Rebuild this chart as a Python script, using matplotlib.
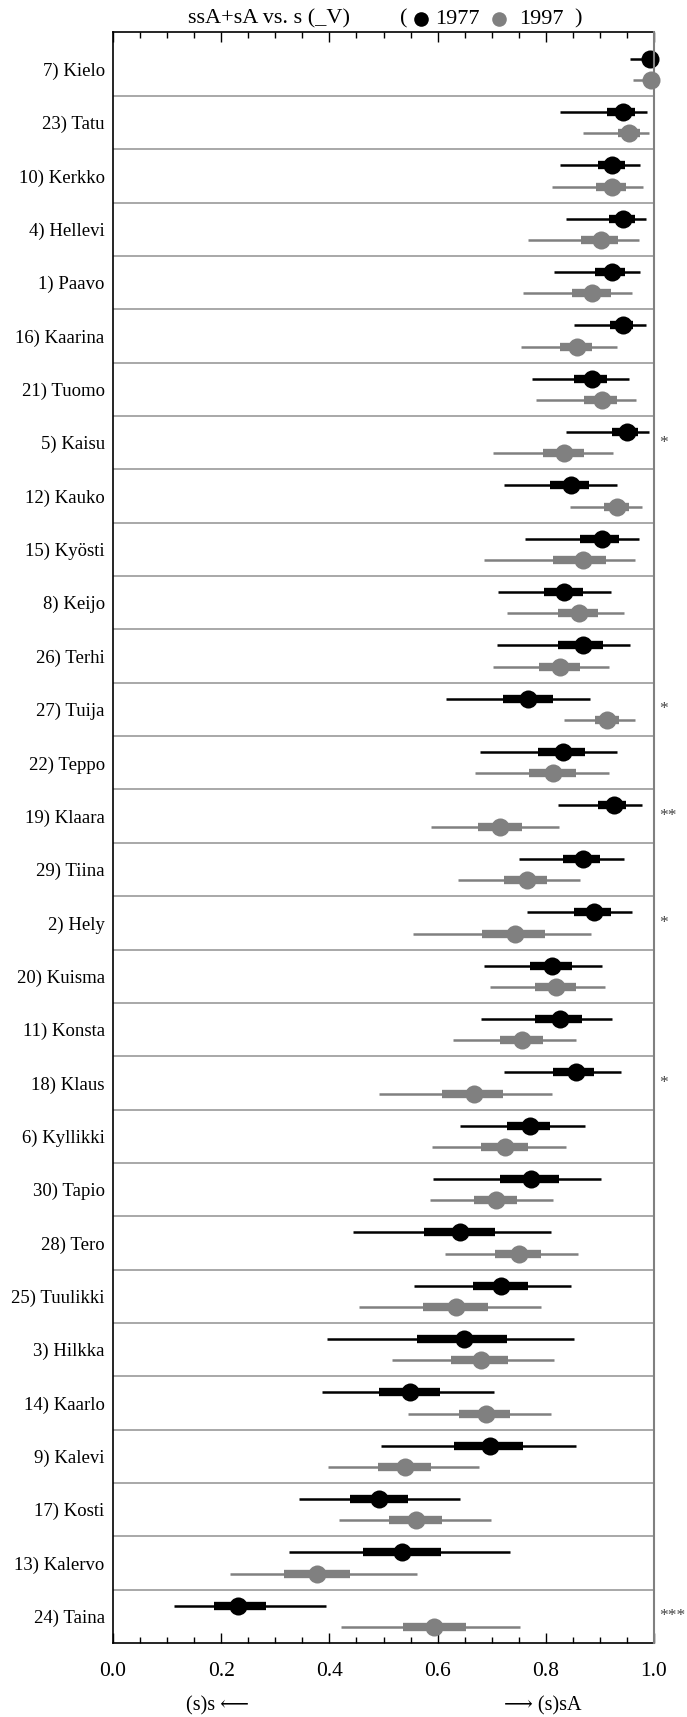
import matplotlib
matplotlib.use("Agg")
import matplotlib.pyplot as plt
from matplotlib.lines import Line2D
from matplotlib.ticker import MultipleLocator

plt.rcParams['font.family'] = ['Liberation Serif', 'DejaVu Serif', 'DejaVu Sans']

names = ["7) Kielo", "23) Tatu", "10) Kerkko", "4) Hellevi", "1) Paavo",
         "16) Kaarina", "21) Tuomo", "5) Kaisu", "12) Kauko", "15) Kyösti",
         "8) Keijo", "26) Terhi", "27) Tuija", "22) Teppo", "19) Klaara",
         "29) Tiina", "2) Hely", "20) Kuisma", "11) Konsta", "18) Klaus",
         "6) Kyllikki", "30) Tapio", "28) Tero", "25) Tuulikki", "3) Hilkka",
         "14) Kaarlo", "9) Kalevi", "17) Kosti", "13) Kalervo", "24) Taina"]
stars = ["", "", "", "", "", "", "", "*", "", "", "", "", "*", "", "**",
         "", "*", "", "", "*", "", "", "", "", "", "", "", "", "", "***"]

# 1977: estimate, 50% interval, 95% interval
est77 = [0.993, 0.942, 0.922, 0.943, 0.922, 0.943, 0.885, 0.951, 0.846, 0.903,
         0.834, 0.868, 0.768, 0.832, 0.926, 0.868, 0.890, 0.811, 0.826, 0.855,
         0.770, 0.773, 0.642, 0.718, 0.649, 0.549, 0.697, 0.491, 0.534, 0.231]
lo50_77 = [0.982, 0.913, 0.896, 0.916, 0.891, 0.919, 0.852, 0.923, 0.808, 0.863,
           0.797, 0.822, 0.720, 0.785, 0.896, 0.832, 0.853, 0.771, 0.780, 0.814,
           0.729, 0.715, 0.575, 0.665, 0.562, 0.492, 0.631, 0.439, 0.462, 0.186]
hi50_77 = [1.000, 0.965, 0.946, 0.965, 0.946, 0.962, 0.914, 0.971, 0.880, 0.935,
           0.869, 0.906, 0.813, 0.872, 0.948, 0.900, 0.920, 0.848, 0.866, 0.890,
           0.808, 0.824, 0.706, 0.767, 0.729, 0.604, 0.758, 0.545, 0.607, 0.282]
lo95_77 = [0.956, 0.826, 0.827, 0.838, 0.816, 0.852, 0.774, 0.837, 0.722, 0.761,
           0.711, 0.710, 0.616, 0.678, 0.823, 0.750, 0.766, 0.685, 0.681, 0.723,
           0.642, 0.591, 0.443, 0.557, 0.396, 0.386, 0.496, 0.343, 0.325, 0.113]
hi95_77 = [1.000, 0.987, 0.974, 0.986, 0.975, 0.985, 0.954, 0.990, 0.931, 0.973,
           0.921, 0.956, 0.882, 0.931, 0.977, 0.945, 0.960, 0.904, 0.923, 0.939,
           0.872, 0.902, 0.810, 0.846, 0.852, 0.705, 0.855, 0.641, 0.733, 0.393]

# 1997
est97 = [0.994, 0.954, 0.923, 0.902, 0.886, 0.857, 0.903, 0.834, 0.932, 0.868,
         0.862, 0.827, 0.914, 0.814, 0.715, 0.765, 0.743, 0.818, 0.756, 0.667,
         0.725, 0.708, 0.750, 0.634, 0.680, 0.689, 0.539, 0.560, 0.378, 0.594]
lo50_97 = [0.985, 0.934, 0.893, 0.865, 0.848, 0.826, 0.870, 0.794, 0.907, 0.814,
           0.823, 0.788, 0.891, 0.769, 0.675, 0.723, 0.682, 0.780, 0.715, 0.609,
           0.680, 0.667, 0.706, 0.573, 0.625, 0.640, 0.489, 0.510, 0.316, 0.536]
hi50_97 = [1.000, 0.974, 0.949, 0.934, 0.920, 0.886, 0.932, 0.871, 0.953, 0.911,
           0.897, 0.863, 0.935, 0.855, 0.756, 0.803, 0.799, 0.855, 0.795, 0.721,
           0.767, 0.747, 0.792, 0.694, 0.730, 0.734, 0.588, 0.608, 0.439, 0.652]
lo95_97 = [0.961, 0.869, 0.812, 0.768, 0.757, 0.754, 0.782, 0.703, 0.844, 0.685,
           0.729, 0.702, 0.833, 0.670, 0.588, 0.638, 0.555, 0.696, 0.629, 0.492,
           0.590, 0.586, 0.613, 0.455, 0.516, 0.545, 0.397, 0.417, 0.216, 0.421]
hi95_97 = [1.000, 0.990, 0.979, 0.972, 0.960, 0.931, 0.967, 0.925, 0.977, 0.964,
           0.945, 0.916, 0.964, 0.916, 0.824, 0.864, 0.884, 0.909, 0.856, 0.812,
           0.837, 0.813, 0.859, 0.791, 0.816, 0.810, 0.676, 0.699, 0.561, 0.752]

years = ["1977", "1997"]
colors = {"1977": "black", "1997": "#808080"}

W, H = 687, 1717
fig = plt.figure(figsize=(W / 100, H / 100), dpi=100)
ax = fig.add_axes([113 / W, 1 - 1643 / H, 541 / W, (1643 - 32) / H])

n = len(names)
ypos = [n - 1 - i for i in range(n)]

series = {
    "1977": (est77, lo50_77, hi50_77, lo95_77, hi95_77, 0.2),
    "1997": (est97, lo50_97, hi50_97, lo95_97, hi95_97, -0.2),
}
for yr in years:
    est, lo50, hi50, lo95, hi95, off = series[yr]
    c = colors[yr]
    for i in range(n):
        y = ypos[i] + off
        ax.plot([lo95[i], hi95[i]], [y, y], color=c, lw=1.8, solid_capstyle="butt", zorder=3)
        ax.plot([lo50[i], hi50[i]], [y, y], color=c, lw=6, solid_capstyle="butt", zorder=4)
        ax.plot(est[i], y, "o", color=c, ms=13, mec="none", zorder=5, clip_on=False)

# row separators
for k in range(n - 1):
    ax.axhline(k + 0.5, color="#999999", lw=1.2, zorder=1)

ax.set_xlim(0, 1)
ax.set_ylim(-0.5, n - 1 + 0.70)
ax.set_yticks(ypos)
ax.set_yticklabels(names, fontsize=13.5)
ax.tick_params(axis="y", length=0, pad=6)

ax.set_xticks([0, 0.2, 0.4, 0.6, 0.8, 1.0])
ax.set_xticklabels([f"{v:.1f}" for v in [0, 0.2, 0.4, 0.6, 0.8, 1.0]], fontsize=15.5)
ax.xaxis.set_minor_locator(MultipleLocator(0.05))
ax.tick_params(axis="x", which="major", direction="in", length=7, width=1, top=True, pad=14)
ax.tick_params(axis="x", which="minor", direction="in", length=4.5, width=1, top=True)

for s in ["left", "top", "bottom"]:
    ax.spines[s].set_color("black")
    ax.spines[s].set_linewidth(1.2)
ax.spines["right"].set_color("#808080")
ax.spines["right"].set_linewidth(1.5)
ax.spines["right"].set_zorder(6)

# significance stars on the right
for i in range(n):
    if stars[i]:
        ax.text(1.01, ypos[i], stars[i], transform=ax.get_yaxis_transform(),
                ha="left", va="center", fontsize=12.5, color="#444444")

# direction labels under the axis
fig.text(218 / W, 1 - 1706 / H, "(s)s \u27f5", ha="center", va="center", fontsize=14.5)
fig.text(543 / W, 1 - 1706 / H, "\u27f6 (s)sA", ha="center", va="center", fontsize=14.5)

# title with inline legend
ty = 1 - 19 / H
fig.text(269 / W, ty, "ssA+sA vs. s (_V)", ha="center", va="center", fontsize=16)
fig.text(404 / W, ty, "(", ha="center", va="center", fontsize=16)
fig.text(457 / W, ty, "1977", ha="center", va="center", fontsize=16)
fig.text(541 / W, ty, "1997", ha="center", va="center", fontsize=16)
fig.text(578 / W, ty, ")", ha="center", va="center", fontsize=16)
for xp, yr in [(421, "1977"), (499, "1997")]:
    fig.add_artist(Line2D([xp / W], [ty], marker="o", ms=10.5, color=colors[yr],
                          mec="none", transform=fig.transFigure))

fig.savefig("out.png", dpi=100)
